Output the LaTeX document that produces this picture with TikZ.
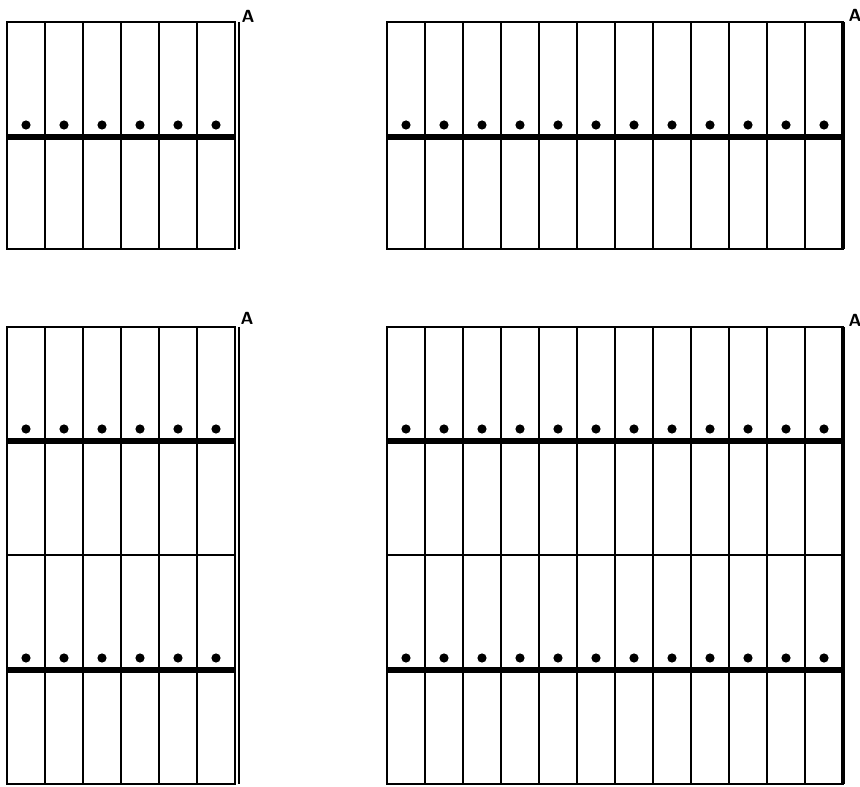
\documentclass[tikz,border=0pt]{standalone}
\usepackage{tikz}

\begin{document}
\begin{tikzpicture}[x=0.02cm,y=-0.02cm,
        wall/.style={line width=1.6pt},
        rail/.style={line width=3.5pt},
        edge/.style={line width=2.8pt},
        seam/.style={line width=1pt},
        hole/.style={fill=black},
        tag/.style={font=\sffamily\bfseries, inner sep=0pt}]
    \useasboundingbox (0,0) rectangle (860,787);
        % top left panel
            \draw[wall] (7,22) rectangle (235,249);
            \foreach \x in {45,83,...,197} \draw[wall] (\x,22) -- (\x,249);
            \draw[rail] (7,137) -- (235,137);
            \foreach \x in {26,64,...,216} \fill[hole] (\x,125) circle (4.6);
            \draw[seam] (239,22) -- (239,249);
                \node[tag] (tagTL) at (248,16) {A};
        % top right panel
            \draw[wall] (387,22) rectangle (843,249);
            \foreach \x in {425,463,...,805} \draw[wall] (\x,22) -- (\x,249);
            \draw[rail] (387,137) -- (843,137);
            \foreach \x in {406,444,...,824} \fill[hole] (\x,125) circle (4.6);
            \draw[edge] (843,22) -- (843,249);
                \node[tag] (tagTR) at (855,15) {A};
        % bottom left panel
            \draw[wall] (7,327) rectangle (235,784);
            \foreach \x in {45,83,...,197} \draw[wall] (\x,327) -- (\x,784);
            \draw[rail] (7,441) -- (235,441);
            \draw[wall] (7,555) -- (235,555);
            \draw[rail] (7,670) -- (235,670);
            \foreach \x in {26,64,...,216} {
                \fill[hole] (\x,429) circle (4.6);
                \fill[hole] (\x,658) circle (4.6);
            }
            \draw[seam] (239,327) -- (239,784);
                \node[tag] (tagBL) at (247,318) {A};
        % bottom right panel
            \draw[wall] (387,327) rectangle (843,784);
            \foreach \x in {425,463,...,805} \draw[wall] (\x,327) -- (\x,784);
            \draw[rail] (387,441) -- (843,441);
            \draw[wall] (387,555) -- (843,555);
            \draw[rail] (387,670) -- (843,670);
            \foreach \x in {406,444,...,824} {
                \fill[hole] (\x,429) circle (4.6);
                \fill[hole] (\x,658) circle (4.6);
            }
            \draw[edge] (843,327) -- (843,784);
                \node[tag] (tagBR) at (855,320) {A};
\end{tikzpicture}
\end{document}
